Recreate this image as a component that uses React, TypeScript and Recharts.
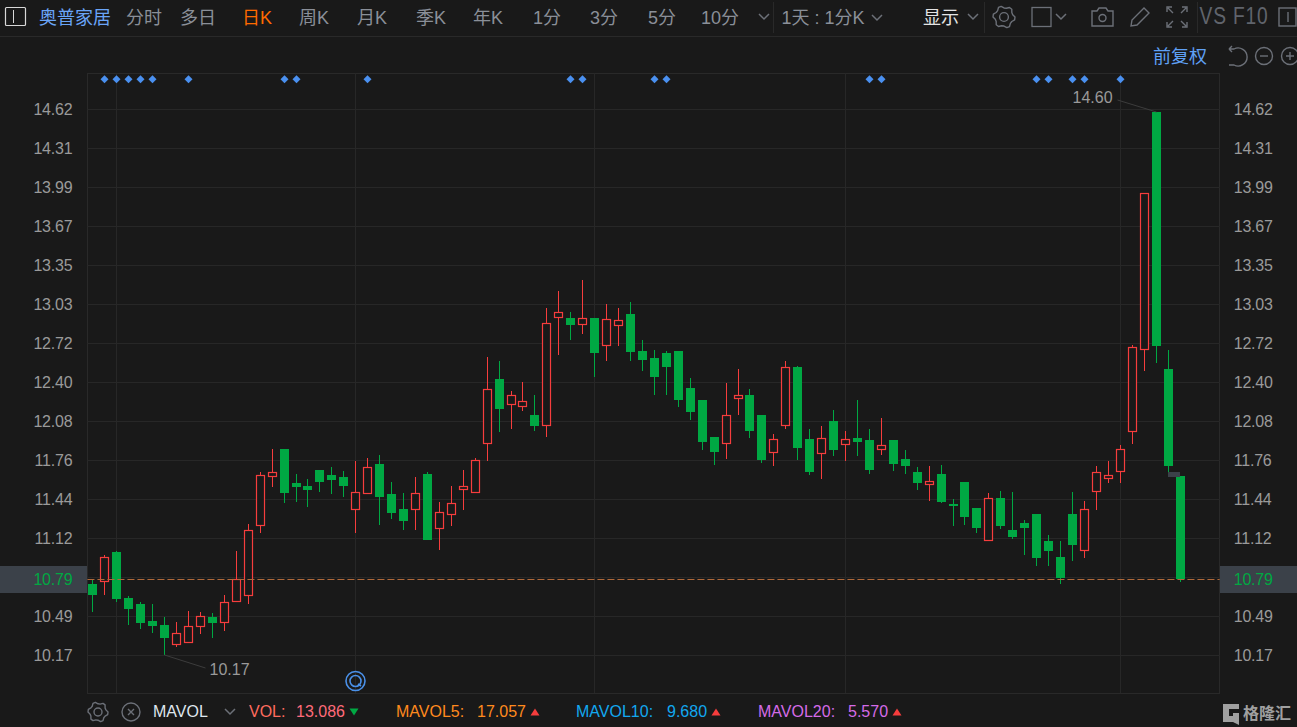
import { Bar, CartesianGrid, ComposedChart, Line, ReferenceLine, XAxis, YAxis } from 'recharts'

// daily candles
const opens = [
  10.75, 10.77, 11.01, 10.64, 10.59, 10.45, 10.42, 10.25, 10.27, 10.4, 10.48, 10.43, 10.6, 10.65, 11.22, 11.62,
  11.85, 11.57, 11.55, 11.68, 11.64, 11.62, 11.35, 11.48, 11.73, 11.48, 11.36, 11.35, 11.65, 11.2, 11.31, 11.52,
  11.49, 11.89, 12.42, 12.21, 12.19, 12.13, 12.04, 12.92, 12.92, 12.86, 12.92, 12.69, 12.85, 12.95, 12.65, 12.59,
  12.63, 12.65, 12.35, 12.25, 11.95, 11.89, 12.26, 12.29, 12.13, 11.82, 12.04, 12.52, 11.93, 11.81, 12.08, 11.88,
  11.94, 11.92, 11.84, 11.92, 11.77, 11.66, 11.56, 11.65, 11.4, 11.58, 11.37, 11.1, 11.45, 11.19, 11.25, 11.32,
  11.1, 10.97, 11.32, 11.02, 11.5, 11.61, 11.66, 11.99, 12.66, 14.6, 12.5, 11.63,
]
const highs = [
  10.78, 10.99, 11.02, 10.65, 10.6, 10.59, 10.48, 10.44, 10.53, 10.52, 10.51, 10.66, 11.02, 11.24, 11.66, 11.85,
  11.85, 11.65, 11.61, 11.68, 11.7, 11.67, 11.75, 11.78, 11.8, 11.58, 11.49, 11.62, 11.66, 11.42, 11.55, 11.68,
  11.78, 12.6, 12.57, 12.32, 12.4, 12.29, 13.0, 13.14, 12.97, 13.23, 12.92, 13.03, 13.0, 13.05, 12.74, 12.66,
  12.65, 12.65, 12.43, 12.25, 11.95, 12.39, 12.5, 12.34, 12.13, 11.97, 12.57, 12.53, 12.01, 12.04, 12.17, 12.0,
  12.25, 12.01, 12.1, 11.92, 11.84, 11.7, 11.71, 11.72, 11.44, 11.58, 11.37, 11.49, 11.51, 11.5, 11.27, 11.32,
  11.15, 11.1, 11.5, 11.43, 11.71, 11.75, 11.88, 12.7, 13.94, 14.6, 12.66, 11.63,
]
const lows = [
  10.52, 10.66, 10.6, 10.42, 10.38, 10.35, 10.17, 10.24, 10.27, 10.34, 10.31, 10.37, 10.6, 10.59, 11.17, 11.54,
  11.41, 11.42, 11.38, 11.5, 11.48, 11.46, 11.17, 11.48, 11.23, 11.28, 11.19, 11.19, 11.11, 11.03, 11.22, 11.35,
  11.49, 11.75, 11.99, 12.01, 12.16, 12.0, 11.95, 12.62, 12.74, 12.79, 12.44, 12.57, 12.69, 12.57, 12.49, 12.29,
  12.29, 12.19, 12.09, 11.84, 11.72, 11.77, 12.13, 11.94, 11.74, 11.71, 12.01, 11.76, 11.64, 11.61, 11.79, 11.75,
  11.79, 11.65, 11.8, 11.67, 11.65, 11.52, 11.43, 11.41, 11.22, 11.23, 11.17, 11.1, 11.2, 11.12, 10.99, 10.9,
  10.9, 10.75, 10.94, 10.96, 11.35, 11.57, 11.57, 11.89, 12.49, 12.55, 11.66, 10.77,
]
const closes = [
  10.66, 10.97, 10.63, 10.55, 10.43, 10.41, 10.31, 10.35, 10.41, 10.49, 10.43, 10.6, 10.79, 11.19, 11.64, 11.66,
  11.49, 11.54, 11.52, 11.58, 11.6, 11.55, 11.5, 11.7, 11.46, 11.33, 11.26, 11.49, 11.11, 11.34, 11.41, 11.55,
  11.76, 12.34, 12.18, 12.29, 12.24, 12.04, 12.88, 12.97, 12.86, 12.92, 12.63, 12.91, 12.9, 12.64, 12.58, 12.44,
  12.52, 12.25, 12.15, 11.91, 11.83, 12.13, 12.29, 12.0, 11.76, 11.93, 12.52, 11.86, 11.66, 11.94, 11.84, 11.93,
  11.91, 11.68, 11.88, 11.73, 11.71, 11.57, 11.59, 11.42, 11.39, 11.3, 11.21, 11.45, 11.22, 11.13, 11.21, 10.96,
  11.02, 10.8, 11.07, 11.36, 11.66, 11.64, 11.85, 12.68, 13.94, 12.69, 11.71, 10.79,
]

const markerIndexes = [1, 2, 3, 4, 5, 8, 16, 17, 23, 40, 41, 47, 48, 65, 66, 79, 80, 82, 83, 86]
const monthStarts = [2, 22, 42, 63, 86]
const gridValues = [14.62, 14.302, 13.984, 13.666, 13.349, 13.031, 12.713, 12.395, 12.077, 11.759, 11.441, 11.123, 10.805, 10.487, 10.169]
const tickValues = [14.62, 14.302, 13.984, 13.666, 13.349, 13.031, 12.713, 12.395, 12.077, 11.759, 11.441, 11.123, 10.79, 10.487, 10.169]
const tickLabels = ['14.62', '14.31', '13.99', '13.67', '13.35', '13.03', '12.72', '12.40', '12.08', '11.76', '11.44', '11.12', '10.79', '10.49', '10.17']
const lastPrice = 10.79
const markerLevel = 14.864
const priceDomain = [9.862, 14.915]

const tabs = [
  ['分时', 144], ['多日', 198], ['日K', 257], ['周K', 314], ['月K', 372], ['季K', 431], ['年K', 488],
  ['1分', 547], ['3分', 604], ['5分', 662], ['10分', 720],
] as const

const data = opens.map((open, i) => ({
  idx: i,
  open,
  high: highs[i],
  low: lows[i],
  close: closes[i],
  range: [lows[i], highs[i]],
  marker: markerIndexes.includes(i) ? markerLevel : null,
}))

const RED = '#f63d3d'
const GREEN = '#00a843'
const BG = '#191919'
const GRID = '#272727'
const FONT = '"Liberation Sans", "Noto Sans CJK SC", sans-serif'
// bars sit a little left of the band centre, so lines and dots follow them
const BAND_SHIFT = 0.47

function Candle(props: any) {
  const { x, y, width, height, payload } = props
  const cx = Math.floor(x + width / 2) + 0.5
  const perUnit = height / (payload.high - payload.low)
  const toY = (v: number) => y + (payload.high - v) * perUnit
  const up = payload.close >= payload.open
  const top = Math.round(toY(Math.max(payload.open, payload.close)))
  const bottom = Math.round(toY(Math.min(payload.open, payload.close)))
  const hi = Math.round(y)
  const lo = Math.round(y + height)
  const color = up ? RED : GREEN
  return (
    <g>
      <line x1={cx} x2={cx} y1={hi} y2={top} stroke={color} strokeWidth={1} />
      <line x1={cx} x2={cx} y1={bottom} y2={lo} stroke={color} strokeWidth={1} />
      {up ? (
        <rect x={cx - 4} y={top + 0.5} width={8} height={Math.max(bottom - top - 1, 1)} fill={BG} stroke={color} strokeWidth={1.2} />
      ) : (
        <rect x={cx - 4.5} y={top} width={9} height={Math.max(bottom - top, 1)} fill={color} />
      )}
      {payload.high === 14.6 && (
        <g>
          <line x1={cx} y1={hi} x2={cx - 39} y2={hi - 12} stroke="#3c3c3c" />
          <text x={cx - 84} y={hi - 9} fontSize={16} fill="#9a9a9a" fontFamily={FONT}>14.60</text>
        </g>
      )}
      {payload.low === 10.17 && (
        <g>
          <line x1={cx} y1={lo} x2={cx + 41} y2={lo + 13} stroke="#3c3c3c" />
          <text x={cx + 45} y={lo + 20} fontSize={16} fill="#9a9a9a" fontFamily={FONT}>10.17</text>
        </g>
      )}
    </g>
  )
}

function Diamond(props: any) {
  const { cx, cy, value } = props
  if (value == null) return <g key={props.index} />
  const x = Math.floor(cx - BAND_SHIFT) + 0.5
  return <path key={props.index} d={`M${x} ${cy - 4}L${x + 4} ${cy}L${x} ${cy + 4}L${x - 4} ${cy}Z`} fill="#4a90f0" />
}

function PriceTick(props: any) {
  const { x, y, payload, index, textAnchor } = props
  const isLast = payload.value === lastPrice
  return (
    <text x={x} y={y + 5.5} textAnchor={textAnchor} fontSize={16} letterSpacing={-0.2} fontFamily={FONT} fill={isLast ? GREEN : '#9a9a9a'}>
      {tickLabels[index]}
    </text>
  )
}

function LastPriceLine(props: any) {
  const y = Math.floor(props.y1) + 0.5
  return <line x1={props.x1} x2={props.x2} y1={y} y2={y} stroke="#b0693a" strokeDasharray="7 3" />
}

const tabStyle = (x: number, color: string, size = 18): React.CSSProperties => ({
  position: 'absolute',
  left: x,
  top: 16,
  transform: 'translate(-50%, -50%)',
  color,
  fontSize: size,
  whiteSpace: 'nowrap',
})

const legendStyle = (x: number, color: string): React.CSSProperties => ({
  position: 'absolute',
  left: x,
  top: 712,
  transform: 'translateY(-50%)',
  color,
  fontSize: 16,
  whiteSpace: 'nowrap',
})

const hLine = (top: number, left: number, width: number): React.CSSProperties => ({
  position: 'absolute', top, left, width, height: 1, background: '#292929',
})
const vLine = (left: number, top: number, height: number): React.CSSProperties => ({
  position: 'absolute', top, left, width: 1, height, background: '#292929',
})

function Chevron({ x, y }: { x: number; y: number }) {
  return <path d={`M${x - 5} ${y - 2}L${x} ${y + 3}L${x + 5} ${y - 2}`} fill="none" stroke="#6c7078" strokeWidth={1.5} />
}

function Triangle({ x, y, color, down }: { x: number; y: number; color: string; down?: boolean }) {
  const d = down ? `M${x - 4.5} ${y - 3.5}H${x + 4.5}L${x} ${y + 3.5}Z` : `M${x - 4.5} ${y + 3.5}H${x + 4.5}L${x} ${y - 3.5}Z`
  return <path d={d} fill={color} />
}

function Gear({ x, y, r }: { x: number; y: number; r: number }) {
  const pts = Array.from({ length: 24 }, (_, k) => {
    const a = (Math.PI / 12) * k
    const rad = k % 4 === 0 || k % 4 === 1 ? r : r * 0.82
    return `${x + rad * Math.cos(a)},${y + rad * Math.sin(a)}`
  })
  return (
    <g fill="none" stroke="#6c7078" strokeWidth={1.4}>
      <polygon points={pts.join(' ')} strokeLinejoin="round" />
      <circle cx={x} cy={y} r={r * 0.4} />
    </g>
  )
}

function Icons() {
  const s = '#6c7078'
  return (
    <svg width={1297} height={727} style={{ position: 'absolute', left: 0, top: 0 }}>
      <rect x={5.5} y={7.5} width={20} height={18} fill="none" stroke="#d8d8d8" strokeWidth={1.2} rx={1} />
      <line x1={13.5} x2={13.5} y1={10} y2={23} stroke="#d8d8d8" />
      <Chevron x={764} y={16} />
      <Chevron x={877} y={17} />
      <Chevron x={973} y={16} />
      <Gear x={1004} y={17} r={11} />
      <rect x={1032} y={7.5} width={19} height={19} fill="none" stroke={s} strokeWidth={1.3} />
      <Chevron x={1061} y={16} />
      <g fill="none" stroke={s} strokeWidth={1.4}>
        <path d="M1092 11h5l2-3h7l2 3h5v15h-21z" />
        <circle cx={1102.5} cy={18} r={3.5} />
        <path d="M1131 26l1-6 12-12 5 5-12 12z" />
        <path d="M1167 12V7h5M1182 7h5v5M1167 22v5h5M1187 22v5h-5M1168 8l5 5M1186 8l-5 5M1168 26l5-5M1186 26l-5-5" />
        <rect x={1279} y={8} width={17} height={18} />
        <path d="M1288 12v10" />
        <path d="M1229 49h5a9 9 0 1 1 0 16h-5M1229 49l3-3M1229 49l3 3" />
        <circle cx={1264} cy={56} r={8.5} />
        <path d="M1260 56h8" />
        <circle cx={1290} cy={56} r={8.5} />
        <path d="M1286 56h8M1290 52v8" />
      </g>
      <Gear x={98} y={712} r={10} />
      <g fill="none" stroke={s} strokeWidth={1.4}>
        <circle cx={131} cy={712} r={9} />
        <path d="M128 709l6 6M134 709l-6 6" />
      </g>
      <Chevron x={230} y={711} />
      <Triangle x={354} y={712} color={GREEN} down />
      <Triangle x={535} y={712} color={RED} />
      <Triangle x={716} y={712} color={RED} />
      <Triangle x={897} y={712} color={RED} />
      <g fill="none" stroke="#4a90e8">
        <circle cx={355.5} cy={681} r={9.5} strokeWidth={1.6} />
        <circle cx={355.5} cy={681} r={5.5} strokeWidth={1.6} />
        <path d="M358 684l3 2" strokeWidth={1.6} />
      </g>
      <path d="M1223 704h16v5h-10v7h4v-3h6v12l-6-3h-10z" fill="#a0a0a0" />
      <rect x={1168} y={472} width={12} height={5} fill="#3b4149" />
    </svg>
  )
}

export default function App() {
  return (
    <div style={{ position: 'absolute', left: 0, top: 0, width: 1297, height: 727, background: BG, overflow: 'hidden', fontFamily: FONT }}>
      <div style={hLine(36, 0, 1297)} />
      <div style={vLine(773, 2, 31)} />
      <div style={vLine(984, 2, 31)} />
      <div style={vLine(1197, 2, 31)} />
      <div style={tabStyle(75, '#6aa5f8', 18)}>奥普家居</div>
      {tabs.map(([label, x]) => (
        <div key={label} style={tabStyle(x, label === '日K' ? '#ff6a00' : '#8a8f98')}>{label}</div>
      ))}
      <div style={tabStyle(823, '#8a8f98')}>1天 : 1分K</div>
      <div style={tabStyle(941, '#e4e4e4')}>显示</div>
      <div style={{ ...tabStyle(1234, '#60646c', 24), transform: 'translate(-50%, -50%) scaleX(0.8)', letterSpacing: 1 }}>VS F10</div>
      <div style={{ position: 'absolute', left: 1153, top: 42, color: '#5fa0f5', fontSize: 18 }}>前复权</div>

      <div style={{ position: 'absolute', left: 0, top: 566, width: 87, height: 27, background: '#3b4149' }} />
      <div style={{ position: 'absolute', left: 1219, top: 566, width: 78, height: 27, background: '#3b4149' }} />
      <div style={hLine(73, 87, 1133)} />
      <div style={hLine(693, 87, 1133)} />
      <div style={vLine(87, 73, 620)} />
      <div style={vLine(1219, 73, 620)} />

      <ComposedChart
        width={1297}
        height={727}
        data={data}
        margin={{ top: 73, right: 0, bottom: 34, left: 0 }}
        barSize={9}
        style={{ position: 'absolute', left: 0, top: 0 }}
      >
        <CartesianGrid
          yAxisId="left"
          horizontalValues={gridValues}
          verticalValues={monthStarts}
          horizontal={(p: any) => (
            <line key={p.key ?? p.y1} x1={p.x1} x2={p.x2} y1={Math.floor(p.y1) + 0.5} y2={Math.floor(p.y1) + 0.5} stroke={GRID} />
          )}
          vertical={(p: any) => {
            const x = Math.floor(p.x1 - BAND_SHIFT) + 0.5
            return <line key={p.key ?? p.x1} x1={x} x2={x} y1={p.y1} y2={p.y2} stroke={GRID} />
          }}
        />
        <XAxis dataKey="idx" hide padding={{ left: 0, right: 33.23 }} />
        <YAxis
          yAxisId="left"
          orientation="left"
          width={87.44}
          domain={priceDomain}
          ticks={tickValues}
          interval={0}
          axisLine={false}
          tickLine={false}
          tickMargin={9}
          tick={<PriceTick />}
        />
        <YAxis
          yAxisId="right"
          orientation="right"
          width={77.3}
          domain={priceDomain}
          ticks={tickValues}
          interval={0}
          axisLine={false}
          tickLine={false}
          tickMargin={8}
          tick={<PriceTick />}
        />
        <Bar yAxisId="left" dataKey="range" shape={<Candle />} isAnimationActive={false} />
        <ReferenceLine yAxisId="left" y={lastPrice} shape={<LastPriceLine />} />
        <Line yAxisId="left" dataKey="marker" stroke="none" dot={<Diamond />} activeDot={false} isAnimationActive={false} connectNulls={false} />
        <Line yAxisId="right" dataKey="marker" stroke="none" dot={false} activeDot={false} isAnimationActive={false} connectNulls={false} />
      </ComposedChart>

      <Icons />

      <div style={legendStyle(153, '#dfe6ee')}>MAVOL</div>
      <div style={legendStyle(249, '#ff6b5e')}>VOL:</div>
      <div style={legendStyle(296, '#ff6b7a')}>13.086</div>
      <div style={legendStyle(396, '#ff8a1e')}>MAVOL5:</div>
      <div style={legendStyle(477, '#ff8a1e')}>17.057</div>
      <div style={legendStyle(576, '#12a8f0')}>MAVOL10:</div>
      <div style={legendStyle(667, '#12a8f0')}>9.680</div>
      <div style={legendStyle(758, '#d46be8')}>MAVOL20:</div>
      <div style={legendStyle(848, '#d46be8')}>5.570</div>
      <div style={{ ...legendStyle(1243, '#a0a0a0'), fontSize: 16, fontWeight: 700 }}>格隆汇</div>
    </div>
  )
}
